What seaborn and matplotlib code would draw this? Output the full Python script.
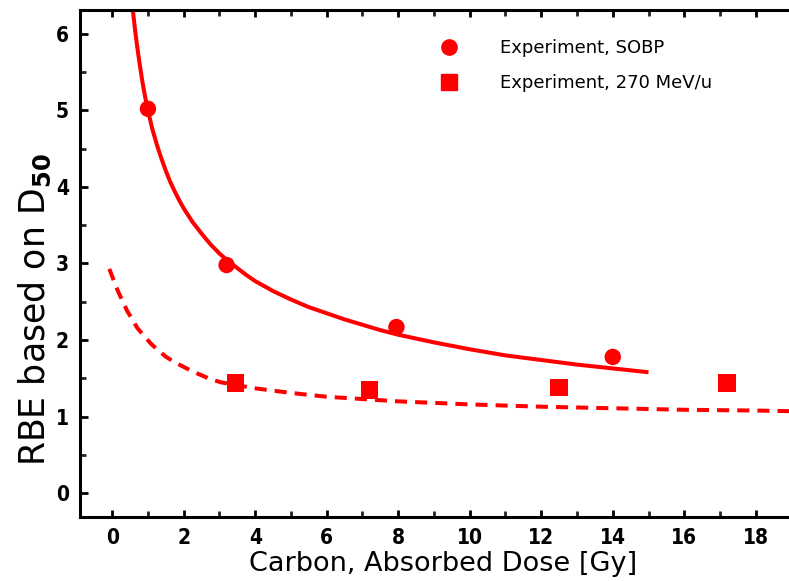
import matplotlib
matplotlib.use("Agg")
import matplotlib.pyplot as plt
from matplotlib.lines import Line2D
from matplotlib.ticker import MultipleLocator
import seaborn as sns
import pandas as pd

# Measured RBE values
sobp_dose = [1.0, 3.2, 7.95, 14.0]
sobp_rbe = [5.02, 2.98, 2.17, 1.78]
mono_dose = [3.45, 7.2, 12.5, 17.2]
mono_rbe = [1.44, 1.35, 1.38, 1.44]

# Model curve for the SOBP beam (solid)
sobp_fit_dose = [0.58, 0.64, 0.7, 0.77, 0.85, 0.92, 1.0, 1.12, 1.25, 1.37, 1.5, 1.62, 1.75,
                 1.87, 2.0, 2.25, 2.5, 2.75, 3.0, 3.25, 3.5, 3.75, 4.0, 4.5, 5.0, 5.5, 6.0,
                 6.5, 7.0, 7.5, 8.0, 9.0, 10.0, 11.0, 12.0, 13.0, 14.0, 15.0]
sobp_fit_rbe = [6.30, 6.05, 5.83, 5.60, 5.36, 5.18, 5.00, 4.76, 4.55, 4.38, 4.21, 4.07, 3.94,
                3.83, 3.72, 3.54, 3.39, 3.25, 3.13, 3.03, 2.94, 2.85, 2.77, 2.64, 2.53, 2.43,
                2.35, 2.27, 2.20, 2.13, 2.07, 1.97, 1.88, 1.80, 1.74, 1.68, 1.63, 1.58]

# Model curve for the 270 MeV/u beam (dashed)
mono_fit_dose = [-0.08, 0.05, 0.17, 0.3, 0.42, 0.55, 0.7, 0.9, 1.09, 1.3, 1.51, 1.75, 2.0,
                 2.25, 2.5, 2.75, 3.03, 3.5, 4.0, 4.5, 5.0, 6.0, 7.0, 8.0, 9.0, 10.0,
                 12.0, 14.0, 16.0, 18.0, 19.2]
mono_fit_rbe = [2.93, 2.77, 2.63, 2.50, 2.38, 2.28, 2.16, 2.05, 1.95, 1.86, 1.78, 1.71, 1.65,
                1.59, 1.54, 1.49, 1.45, 1.41, 1.37, 1.34, 1.31, 1.26, 1.23, 1.20, 1.18, 1.16,
                1.13, 1.11, 1.09, 1.08, 1.07]

xticks = [0, 2, 4, 6, 8, 10, 12, 14, 16, 18]
yticks = [0, 1, 2, 3, 4, 5, 6]

RED = "#ff0000"

sns.set_style("ticks")
plt.rcParams["font.family"] = ["DejaVu Sans"]

fig = plt.figure(figsize=(7.89, 5.81), dpi=100)
ax = fig.add_axes([80 / 789, 1 - 517 / 581, 1 - 80 / 789 + 0.01, (517 - 10) / 581])

sns.lineplot(data=pd.DataFrame({"d": sobp_fit_dose, "r": sobp_fit_rbe}), x="d", y="r",
             ax=ax, color=RED, lw=2.9, sort=False, estimator=None, solid_capstyle="butt")
sns.lineplot(data=pd.DataFrame({"d": mono_fit_dose, "r": mono_fit_rbe}), x="d", y="r",
             ax=ax, color=RED, lw=2.9, sort=False, estimator=None,
             linestyle=(0, (3.0, 2.0)), dash_capstyle="butt")

sns.scatterplot(x=sobp_dose, y=sobp_rbe, ax=ax, marker="o", s=140, color=RED,
                edgecolor="none", zorder=5)
sns.scatterplot(x=mono_dose, y=mono_rbe, ax=ax, marker="s", s=160, color=RED,
                edgecolor="none", zorder=5)

ax.set_xlim(-0.9, 19.15)
ax.set_ylim(-0.31, 6.31)

ax.set_xticks(xticks)
ax.set_yticks(yticks)
ax.xaxis.set_minor_locator(MultipleLocator(1))
ax.yaxis.set_minor_locator(MultipleLocator(0.5))

tick_font = dict(family=["DejaVu Sans"], weight="bold", size=15, stretch="condensed")
ax.set_xticklabels([str(t) for t in xticks], fontdict=tick_font)
ax.set_yticklabels([str(t) for t in yticks], fontdict=tick_font)

ax.tick_params(axis="both", which="major", direction="in", length=6, width=2, pad=8,
               colors="black")
ax.tick_params(axis="both", which="minor", direction="in", length=4, width=2)
ax.tick_params(axis="x", which="both", top=True)
ax.tick_params(axis="x", which="major", top=True, length=5)

for side in ["left", "bottom", "top"]:
    ax.spines[side].set_linewidth(2.2)
    ax.spines[side].set_color("black")
ax.spines["right"].set_visible(False)

ax.set_xlabel("Carbon, Absorbed Dose [Gy]", fontsize=19.5, color="black")
ax.xaxis.set_label_coords(0.507, -0.067)
ax.set_ylabel(r"RBE based on D$_{\mathbf{50}}$", fontsize=25, color="black")
ax.yaxis.set_label_coords(-0.038, 0.41)

handles = [
    Line2D([], [], marker="o", color=RED, linestyle="none", markersize=11),
    Line2D([], [], marker="s", color=RED, linestyle="none", markersize=12),
]
leg = ax.legend(handles, ["Experiment, SOBP", "Experiment, 270 MeV/u"], frameon=False,
                loc="upper left", bbox_to_anchor=(0.49, 0.943), fontsize=13,
                handletextpad=1.8, labelspacing=0.95, borderaxespad=0, borderpad=0)
for t in leg.get_texts():
    t.set_color("black")

fig.savefig("out.png", dpi=100)
